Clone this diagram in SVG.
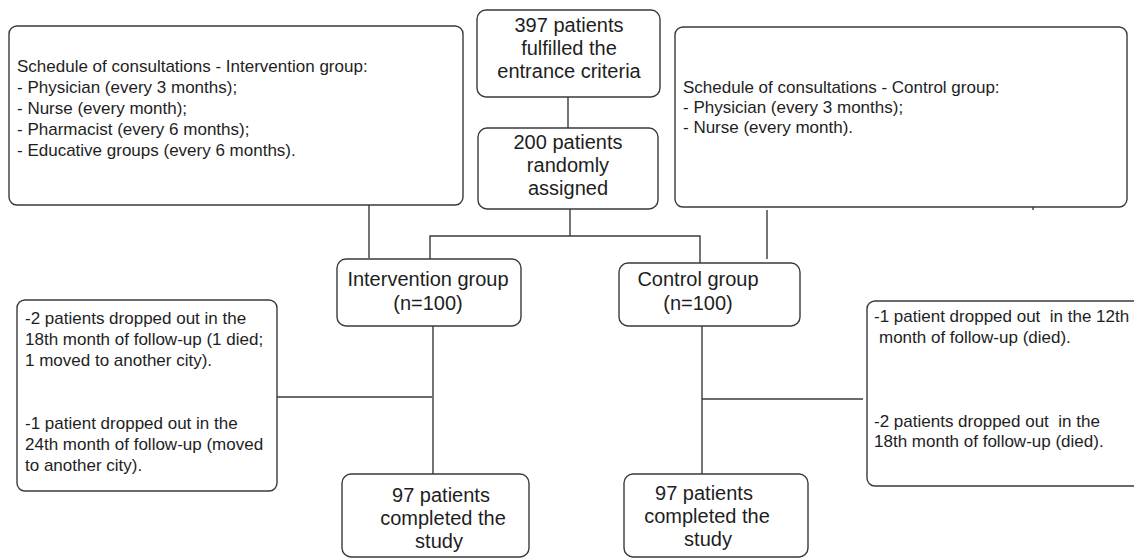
<svg xmlns="http://www.w3.org/2000/svg" width="1134" height="560" viewBox="0 0 1134 560">
<style>
.box{fill:#fff;stroke:#3a3a3a;stroke-width:1.4}
.ln{stroke:#3a3a3a;stroke-width:1.4;fill:none}
.s{font-family:"Liberation Sans",Arial,sans-serif;font-size:17px;fill:#1e1e1e}
.c{font-family:"Liberation Sans",Arial,sans-serif;font-size:20px;fill:#1e1e1e;text-anchor:middle}
</style>
<rect width="1134" height="560" fill="#fff"/>
<g id="connectors">
<line class="ln" x1="568" y1="97" x2="568" y2="128"/>
<line class="ln" x1="369" y1="205" x2="369" y2="258"/>
<line class="ln" x1="570" y1="209" x2="570" y2="236"/>
<polyline class="ln" points="430,259 430,236 700,236 700,263"/>
<line class="ln" x1="767" y1="210" x2="767" y2="259"/>
<line class="ln" x1="1033" y1="206" x2="1033" y2="210"/>
<line class="ln" x1="433" y1="326" x2="433" y2="474"/>
<line class="ln" x1="277" y1="397" x2="432" y2="397"/>
<line class="ln" x1="702" y1="326" x2="702" y2="474"/>
<line class="ln" x1="702" y1="399" x2="863" y2="399"/>
</g>
<g id="schedule-intervention">
<rect class="box" x="9" y="26" width="454" height="179" rx="8"/>
<text class="s" x="17" y="72">Schedule of consultations - Intervention group:</text>
<text class="s" x="17" y="93">- Physician (every 3 months);</text>
<text class="s" x="17" y="114">- Nurse (every month);</text>
<text class="s" x="17" y="135">- Pharmacist (every 6 months);</text>
<text class="s" x="17" y="156">- Educative groups (every 6 months).</text>
</g>
<g id="entrance">
<rect class="box" x="477" y="10" width="183" height="87" rx="9"/>
<text class="c" x="569" y="32">397 patients</text>
<text class="c" x="569" y="55">fulfilled the</text>
<text class="c" x="569" y="78">entrance criteria</text>
</g>
<g id="randomized">
<rect class="box" x="478" y="128" width="180" height="81" rx="9"/>
<text class="c" x="568" y="149">200 patients</text>
<text class="c" x="568" y="172">randomly</text>
<text class="c" x="568" y="195">assigned</text>
</g>
<g id="schedule-control">
<rect class="box" x="675" y="27" width="452" height="180" rx="8"/>
<text class="s" x="683" y="93">Schedule of consultations - Control group:</text>
<text class="s" x="683" y="113">- Physician (every 3 months);</text>
<text class="s" x="683" y="133">- Nurse (every month).</text>
</g>
<g id="intervention-group">
<rect class="box" x="337" y="259" width="184" height="67" rx="9"/>
<text class="c" x="428" y="286">Intervention group</text>
<text class="c" x="428" y="310">(n=100)</text>
</g>
<g id="control-group">
<rect class="box" x="619" y="263" width="181" height="63" rx="9"/>
<text class="c" x="698" y="286">Control group</text>
<text class="c" x="698" y="310">(n=100)</text>
</g>
<g id="dropouts-intervention">
<rect class="box" x="17" y="300" width="260" height="191" rx="8"/>
<text class="s" x="25" y="324">-2 patients dropped out  in the</text>
<text class="s" x="25" y="345">18th month of follow-up (1 died;</text>
<text class="s" x="25" y="366">1 moved to another city).</text>
<text class="s" x="25" y="429">-1 patient dropped out  in the</text>
<text class="s" x="25" y="450">24th month of follow-up (moved</text>
<text class="s" x="25" y="471">to another city).</text>
</g>
<g id="dropouts-control">
<rect class="box" x="867" y="301" width="290" height="185" rx="8"/>
<text class="s" x="874" y="322" xml:space="preserve">-1 patient dropped out  in the 12th</text>
<text class="s" x="879" y="343">month of follow-up (died).</text>
<text class="s" x="874" y="427" xml:space="preserve">-2 patients dropped out  in the</text>
<text class="s" x="874" y="447">18th month of follow-up (died).</text>
</g>
<g id="completed-intervention">
<rect class="box" x="342" y="474" width="187" height="83" rx="9"/>
<text class="c" x="441" y="502">97 patients</text>
<text class="c" x="443" y="525">completed the</text>
<text class="c" x="439" y="548">study</text>
</g>
<g id="completed-control">
<rect class="box" x="624" y="474" width="184" height="83" rx="9"/>
<text class="c" x="704" y="500">97 patients</text>
<text class="c" x="707" y="523">completed the</text>
<text class="c" x="708" y="546">study</text>
</g>
</svg>
